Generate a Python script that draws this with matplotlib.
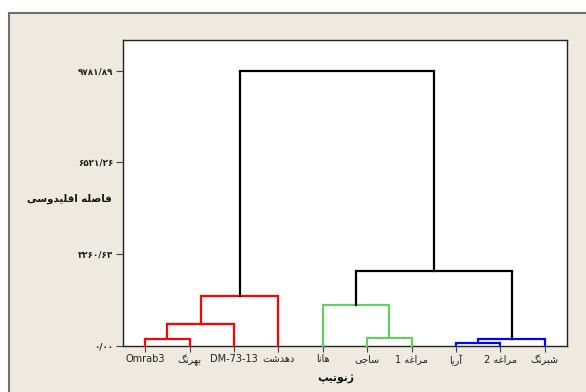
import matplotlib
matplotlib.use("Agg")
import matplotlib.pyplot as plt
from matplotlib.lines import Line2D
from matplotlib.patches import Rectangle

# ---------------- data ----------------
leaves = ['Omrab3', 'بهرنگ', 'DM-73-13', 'دهدشت', 'هانا', 'ساجی',
          'مراغه 1', 'آریا', 'مراغه 2', 'شبرنگ']
# merges: (left node, right node, height); new nodes numbered from len(leaves)
merge_left = [0, 10, 11, 5, 4, 7, 15, 14, 12]
merge_right = [1, 2, 3, 6, 13, 8, 9, 16, 17]
merge_height = [237, 790, 1761, 273, 1464, 110, 245, 2658, 9781.89]
merge_color = ['#ff0000', '#ff0000', '#ff0000', '#66cc66', '#66cc66',
               '#0000ff', '#0000ff', '#000000', '#000000']
ytick_values = [0.0, 3260.63, 6521.26, 9781.89]
ylabel_text = 'فاصله اقلیدوسی'
xlabel_text = 'ژنوتیپ'

# ---------------- Persian shaping ----------------
FORMS = {
    'ا': ('\uFE8D', '\uFE8E', None, None),
    'آ': ('\uFE81', '\uFE82', None, None),
    'ب': ('\uFE8F', '\uFE90', '\uFE91', '\uFE92'),
    'پ': ('\uFB56', '\uFB57', '\uFB58', '\uFB59'),
    'ت': ('\uFE95', '\uFE96', '\uFE97', '\uFE98'),
    'ج': ('\uFE9D', '\uFE9E', '\uFE9F', '\uFEA0'),
    'د': ('\uFEA9', '\uFEAA', None, None),
    'ر': ('\uFEAD', '\uFEAE', None, None),
    'ژ': ('\uFB8A', '\uFB8B', None, None),
    'س': ('\uFEB1', '\uFEB2', '\uFEB3', '\uFEB4'),
    'ش': ('\uFEB5', '\uFEB6', '\uFEB7', '\uFEB8'),
    'ص': ('\uFEB9', '\uFEBA', '\uFEBB', '\uFEBC'),
    'غ': ('\uFECD', '\uFECE', '\uFECF', '\uFED0'),
    'ف': ('\uFED1', '\uFED2', '\uFED3', '\uFED4'),
    'ق': ('\uFED5', '\uFED6', '\uFED7', '\uFED8'),
    'گ': ('\uFB92', '\uFB93', '\uFB94', '\uFB95'),
    'ل': ('\uFEDD', '\uFEDE', '\uFEDF', '\uFEE0'),
    'م': ('\uFEE1', '\uFEE2', '\uFEE3', '\uFEE4'),
    'ن': ('\uFEE5', '\uFEE6', '\uFEE7', '\uFEE8'),
    'ه': ('\uFEE9', '\uFEEA', '\uFEEB', '\uFEEC'),
    'و': ('\uFEED', '\uFEEE', None, None),
    'ی': ('\uFBFC', '\uFBFD', '\uFBFE', '\uFBFF'),
}


def shape(s):
    if not any(c in FORMS for c in s):
        return s
    out = []
    for i, c in enumerate(s):
        if c not in FORMS:
            out.append(c)
            continue
        prev = s[i - 1] if i > 0 else ''
        nxt = s[i + 1] if i + 1 < len(s) else ''
        jp = prev in FORMS and FORMS[prev][2] is not None
        jn = nxt in FORMS and FORMS[c][2] is not None
        iso, fin, ini, med = FORMS[c]
        if jp and jn:
            out.append(med)
        elif jp:
            out.append(fin)
        elif jn:
            out.append(ini)
        else:
            out.append(iso)
    return ''.join(out[::-1])


PDIG = str.maketrans('0123456789', '۰۱۲۳۴۵۶۷۸۹')


def pnum(v):
    return f"{v:.2f}".replace('.', '/').translate(PDIG)


# ---------------- figure ----------------
W, H = 586, 392
fig = plt.figure(figsize=(W / 100, H / 100), dpi=100, facecolor='white')
bg = '#eeeae0'
fig.add_artist(Rectangle((9.5 / W, 0), 1, (H - 13) / H, transform=fig.transFigure,
                         facecolor=bg, edgecolor='none', zorder=0))
fig.add_artist(Line2D([9.5 / W, 1], [(H - 13) / H] * 2, transform=fig.transFigure,
                      color='#707070', lw=1.5))
fig.add_artist(Line2D([9.5 / W] * 2, [0, (H - 13) / H], transform=fig.transFigure,
                      color='#707070', lw=1.5))

ax = fig.add_axes([123 / W, (H - 346) / H, (567 - 123) / W, (346 - 40) / H])
ax.set_facecolor('white')

n = len(leaves)
xpos = {i: i + 0.5 for i in range(n)}
ypos = {i: 0.0 for i in range(n)}
for k, (a, b, h, col) in enumerate(zip(merge_left, merge_right, merge_height, merge_color)):
    xa, xb = xpos[a], xpos[b]
    ax.plot([xa, xa, xb, xb], [ypos[a], h, h, ypos[b]], color=col, lw=1.6,
            solid_joinstyle='miter', clip_on=False, zorder=3)
    xpos[n + k] = (xa + xb) / 2
    ypos[n + k] = h

ax.set_xlim(0, n)
ax.set_ylim(0, 10865)
ax.set_xticks([i + 0.5 for i in range(n)])
ax.set_xticklabels([shape(l) for l in leaves], family='DejaVu Sans', fontsize=7.0,
                   color='#222222')
ax.set_yticks(ytick_values)
ax.set_yticklabels([pnum(v) for v in ytick_values], family='DejaVu Sans', fontsize=6.3,
                   fontweight='bold', color='#222222')
ax.tick_params(axis='x', length=4, width=0.8, pad=2, colors='#444444', labelcolor='#222222')
ax.tick_params(axis='y', length=5, width=0.8, pad=2, colors='#444444', labelcolor='#222222')
for sp in ax.spines.values():
    sp.set_color('#222222')
    sp.set_linewidth(1.0)

fig.text(112 / W, 1 - 199 / H, shape(ylabel_text), ha='right', va='center',
         family='DejaVu Sans', fontsize=7.3, fontweight='bold', color='#111111')
fig.text(336 / W, 1 - 379 / H, shape(xlabel_text), ha='center', va='center',
         family='DejaVu Sans', fontsize=7.8, fontweight='bold', color='#111111')

fig.savefig('out.png', dpi=100, facecolor=fig.get_facecolor())
